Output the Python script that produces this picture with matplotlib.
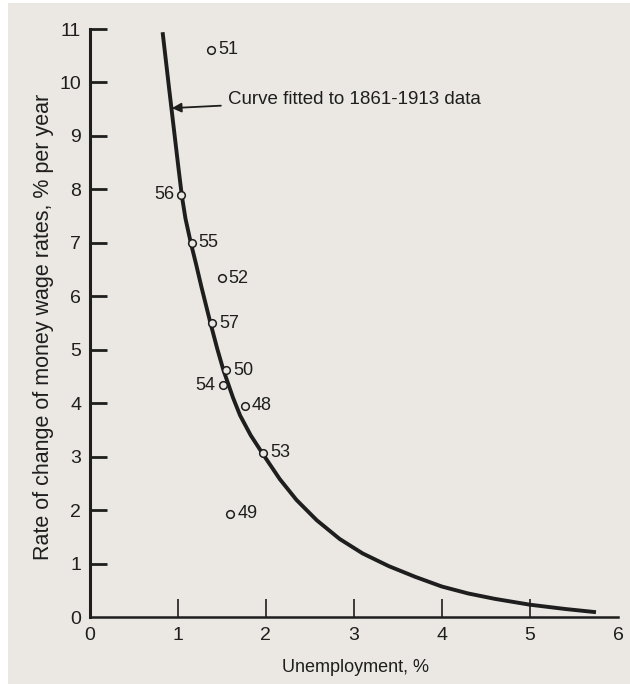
import matplotlib
matplotlib.use("Agg")
import matplotlib.pyplot as plt
from matplotlib.patches import Rectangle

plt.rcParams['font.family'] = ['Liberation Sans Narrow', 'Liberation Sans', 'DejaVu Sans']

# Observed points (year label, unemployment %, wage change %)
years = ["51", "56", "55", "52", "57", "50", "54", "48", "53", "49"]
unemp = [1.38, 1.04, 1.16, 1.50, 1.39, 1.55, 1.51, 1.76, 1.97, 1.60]
wage = [10.61, 7.90, 7.00, 6.34, 5.50, 4.62, 4.34, 3.95, 3.07, 1.93]
label_side = ["r", "l", "r", "r", "r", "r", "l", "r", "r", "r"]

# Fitted curve
curve_x = [0.83, 0.90, 0.96, 1.01, 1.05, 1.09, 1.15, 1.21, 1.27, 1.37, 1.45,
           1.52, 1.63, 1.71, 1.83, 1.96, 2.16, 2.35, 2.58, 2.84, 3.10, 3.40,
           3.70, 4.00, 4.30, 4.60, 5.00, 5.40, 5.75]
curve_y = [10.94, 9.94, 9.10, 8.40, 7.86, 7.45, 7.00, 6.60, 6.18, 5.52, 5.02,
           4.62, 4.10, 3.77, 3.40, 3.07, 2.58, 2.19, 1.81, 1.46, 1.19, 0.95,
           0.75, 0.57, 0.44, 0.34, 0.23, 0.15, 0.09]

x_ticks = [0, 1, 2, 3, 4, 5, 6]
y_ticks = [0, 1, 2, 3, 4, 5, 6, 7, 8, 9, 10, 11]

paper = '#ebe8e3'
ink = '#1e1e1e'

W, H = 630, 684
fig = plt.figure(figsize=(W / 100, H / 100), dpi=100)
fig.patch.set_facecolor('white')
fig.patches.append(Rectangle((8 / W, 0), 1 - 8 / W, 1 - 3 / H, transform=fig.transFigure,
                             facecolor=paper, edgecolor='none', zorder=-10))

ax = fig.add_axes([89.5 / W, 1 - 617 / H, (618 - 89.5) / W, (617 - 29) / H])
ax.patch.set_alpha(0)
ax.set_xlim(0, 6)
ax.set_ylim(0, 11)

for s in ['top', 'right']:
    ax.spines[s].set_visible(False)
ax.spines['left'].set_linewidth(2.2)
ax.spines['bottom'].set_linewidth(1.8)
ax.spines['left'].set_color(ink)
ax.spines['bottom'].set_color(ink)

ax.set_xticks(x_ticks)
ax.set_xticklabels([str(v) for v in x_ticks])
ax.set_yticks(y_ticks)
ax.set_yticklabels([str(v) for v in y_ticks])
ax.tick_params(axis='x', direction='in', length=13, width=1.2, pad=7,
               labelsize=14, colors=ink)
ax.tick_params(axis='y', direction='in', length=12, width=2.0, pad=6,
               labelsize=14, colors=ink)
for t in (ax.xaxis.get_major_ticks()[0], ax.xaxis.get_major_ticks()[-1],
          ax.yaxis.get_major_ticks()[0]):
    t.tick1line.set_visible(False)

ax.plot(curve_x, curve_y, color=ink, lw=2.8, solid_capstyle='butt',
        solid_joinstyle='round', clip_on=False, zorder=3)

ax.plot(unemp, wage, linestyle='none', marker='o', markersize=5.5,
        markerfacecolor=paper, markeredgecolor=ink, markeredgewidth=1.1,
        clip_on=False, zorder=4)

for yr, ux, wy, side in zip(years, unemp, wage, label_side):
    if side == 'r':
        ax.annotate(yr, (ux, wy), xytext=(5, 0), textcoords='offset points',
                    ha='left', va='center', fontsize=13, color=ink)
    else:
        ax.annotate(yr, (ux, wy), xytext=(-5, 0), textcoords='offset points',
                    ha='right', va='center', fontsize=13, color=ink)

ax.annotate("Curve fitted to 1861-1913 data", xy=(0.935, 9.52), xytext=(1.57, 9.69),
            ha='left', va='center', fontsize=13.5, color=ink,
            arrowprops=dict(arrowstyle='-|>', color=ink, lw=1.3,
                            mutation_scale=14, shrinkA=3, shrinkB=0))

fig.text(356 / W, 1 - 668 / H, "Unemployment, %", ha='center', va='center',
         fontsize=13, color=ink)
fig.text(44 / W, 1 - 327 / H, "Rate of change of money wage rates, % per year",
         ha='center', va='center', rotation=90, fontsize=15.5, color=ink)

fig.savefig("out.png", dpi=100, facecolor=fig.get_facecolor())
